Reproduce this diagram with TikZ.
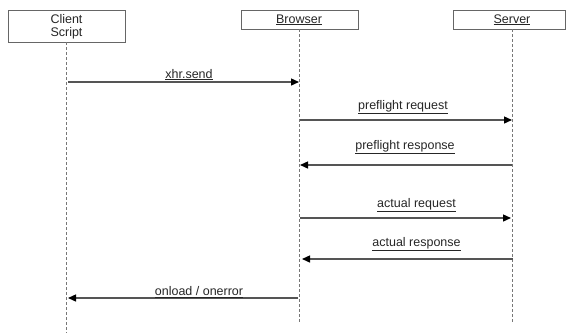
\documentclass[tikz,border=0pt]{standalone}
\usepackage{fontspec}
\setmainfont{Liberation Sans}
\usetikzlibrary{arrows.meta}
\definecolor{linegray}{HTML}{555555}
\definecolor{boxgray}{HTML}{666666}
\definecolor{lifegray}{HTML}{777777}
\definecolor{txtgray}{HTML}{262626}
\begin{document}
\begin{tikzpicture}[x=1pt,y=-1pt,
  font=\fontsize{12.5}{13}\selectfont,
  actor/.style={draw=boxgray, line width=0.9pt, fill=white, inner sep=0pt},
  lifeline/.style={draw=lifegray, line width=0.9pt, dash pattern=on 3pt off 2pt},
  msg/.style={draw=linegray, line width=1.4pt, -{Triangle[length=8pt,width=7pt,color=black]}},
  lbl/.style={text=txtgray, anchor=base, inner sep=0pt}]
\useasboundingbox (0,0) rectangle (566,333);
% actor boxes
\node[actor, minimum width=117pt, minimum height=32pt] (client) at (66.5,26) {};
\node[actor, minimum width=117pt, minimum height=19pt] (browser) at (299.5,19.5) {};
\node[actor, minimum width=112pt, minimum height=19pt] (server) at (509,19.5) {};
\node[lbl] (clientt1) at (66.5,23) {Client};
\node[lbl] (clientt2) at (66.5,36) {Script};
\node[lbl] (browsert) at (299,23) {\underline{Browser}};
\node[lbl] (servert) at (512,23) {\underline{Server}};
% lifeline coordinates
\coordinate (cTop) at (66,42);
\coordinate (cBot) at (66,333);
\coordinate (bTop) at (299,29);
\coordinate (bBot) at (299,323);
\coordinate (sTop) at (512,29);
\coordinate (sBot) at (512,323);
\draw[lifeline] (cTop) -- (cBot);
\draw[lifeline] (bTop) -- (bBot);
\draw[lifeline] (sTop) -- (sBot);
% message end points
\coordinate (m1a) at (68,82);  \coordinate (m1b) at (299,82);
\coordinate (m2a) at (300,120);  \coordinate (m2b) at (512,120);
\coordinate (m3a) at (512,165);  \coordinate (m3b) at (300,165);
\coordinate (m4a) at (300,218);\coordinate (m4b) at (511,218);
\coordinate (m5a) at (513,259);  \coordinate (m5b) at (302,259);
\coordinate (m6a) at (298,298);  \coordinate (m6b) at (68,298);
\draw[msg] (m1a) -- (m1b);
\draw[msg] (m2a) -- (m2b);
\draw[msg] (m3a) -- (m3b);
\draw[msg] (m4a) -- (m4b);
\draw[msg] (m5a) -- (m5b);
\draw[msg] (m6a) -- (m6b);
% labels
\node[lbl] (l1) at (189,78) {\underline{xhr.send}};
\node[lbl] (l2) at (403,109) {\underline{preflight request}};
\node[lbl] (l3) at (405,149) {\underline{preflight response}};
\node[lbl] (l4) at (416.5,207) {\underline{actual request}};
\node[lbl] (l5) at (416.5,246) {\underline{actual response}};
\node[lbl] (l6) at (199,295.5) {\underline{onload / onerror}};
\end{tikzpicture}
\end{document}
